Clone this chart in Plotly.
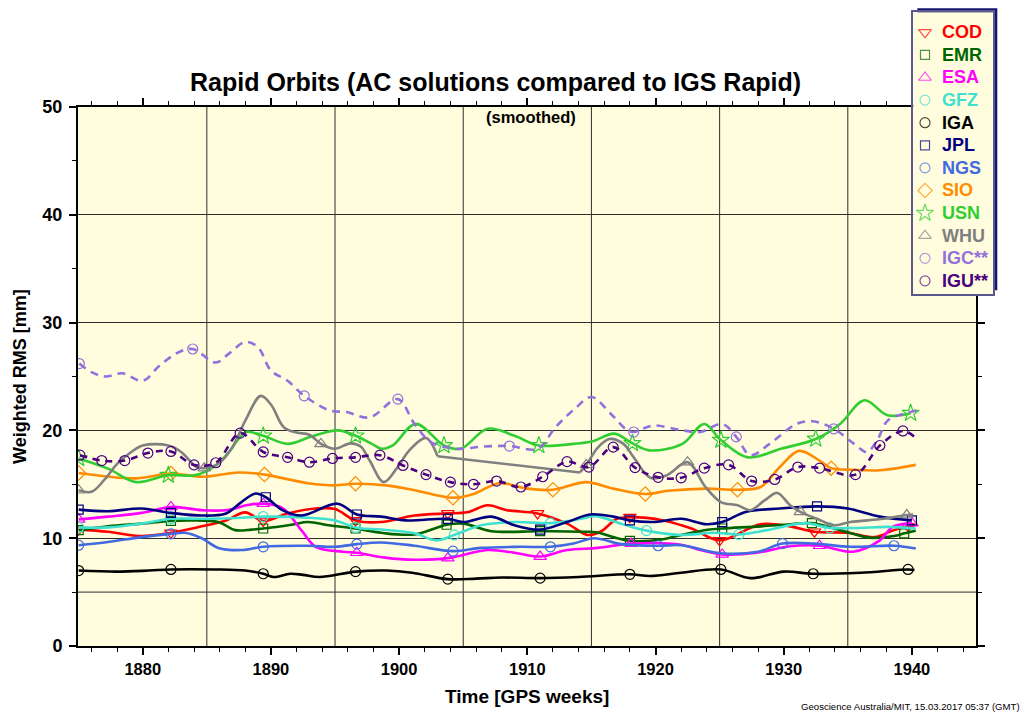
import plotly.graph_objects as go

# ---------------- data ----------------
COD_W = [1875.0, 1877.3, 1879.9, 1882.2, 1884.6, 1886.5, 1888.0, 1889.4, 1891.3, 1893.5, 1895.0, 1896.6,
         1898.6, 1901.2, 1903.8, 1905.3, 1906.9, 1908.4, 1910.8, 1913.1, 1914.7, 1915.7, 1917.0, 1918.0,
         1920.6, 1922.8, 1925.0, 1928.2, 1930.5, 1932.4, 1935.0, 1937.1, 1938.6, 1939.7, 1940.2]
COD_V = [10.8, 10.6, 10.2, 10.5, 11.1, 11.65, 12.4, 11.6, 12.3, 12.75, 12.7, 11.65,
         11.5, 12.1, 12.3, 12.4, 13.05, 12.6, 12.3, 11.35, 10.3, 10.6, 11.8, 11.95,
         11.65, 10.9, 9.8, 11.3, 11.1, 10.6, 10.5, 10.1, 10.75, 11.1, 11.2]
COD_MK = [1875.0, 1882.2, 1889.4, 1896.6, 1903.8, 1910.8, 1918.0, 1925.0, 1932.4, 1939.7]

EMR_W = [1875.0, 1877.3, 1879.9, 1882.2, 1883.7, 1885.9, 1887.2, 1888.5, 1889.4, 1891.6, 1892.9, 1894.5,
         1896.6, 1898.6, 1901.2, 1903.7, 1905.0, 1907.2, 1911.0, 1914.3, 1915.4, 1916.7, 1918.0, 1920.6,
         1922.0, 1924.2, 1925.2, 1928.2, 1930.5, 1932.2, 1934.4, 1936.7, 1938.6, 1939.4, 1940.3]
EMR_V = [10.75, 11.1, 11.35, 11.6, 11.65, 11.5, 10.75, 10.8, 10.9, 11.25, 11.5, 11.2,
         10.9, 10.5, 10.35, 11.25, 11.35, 10.65, 10.65, 10.6, 10.55, 10.1, 9.75, 9.9,
         10.3, 10.8, 10.9, 11.1, 11.3, 11.4, 10.75, 10.05, 10.2, 10.45, 10.7]
EMR_MK = [1875.0, 1882.2, 1889.4, 1896.6, 1903.7, 1911.0, 1918.0, 1925.2, 1932.2, 1939.4]

ESA_W = [1875.0, 1877.3, 1879.9, 1882.2, 1884.6, 1886.5, 1888.3, 1889.4, 1890.9, 1892.4, 1893.5, 1895.6,
         1896.7, 1898.9, 1901.2, 1903.8, 1906.9, 1909.0, 1911.0, 1913.1, 1915.5, 1918.1, 1922.0, 1923.5,
         1925.2, 1927.9, 1930.5, 1932.8, 1935.4, 1937.5, 1938.5, 1940.0]
ESA_V = [11.75, 12.0, 12.35, 12.9, 12.6, 12.6, 13.1, 13.2, 12.8, 10.7, 9.2, 8.75,
         8.65, 8.2, 8.0, 8.15, 8.9, 8.65, 8.3, 8.9, 9.1, 9.5, 9.4, 8.9,
         8.5, 8.65, 9.25, 9.3, 8.75, 9.8, 11.05, 11.4]
ESA_MK = [1875.0, 1882.2, 1889.4, 1896.7, 1903.8, 1911.0, 1918.1, 1925.2, 1932.8, 1940.0]

GFZ_W = [1875.0, 1877.3, 1879.9, 1882.2, 1884.6, 1887.7, 1889.4, 1892.9, 1895.0, 1896.6, 1898.6, 1901.2,
         1902.9, 1904.3, 1906.4, 1909.0, 1911.8, 1914.2, 1915.3, 1917.3, 1919.3, 1922.0, 1924.6, 1926.5,
         1928.7, 1931.7, 1933.6, 1935.6, 1938.2, 1940.3]
GFZ_V = [11.0, 11.0, 11.35, 11.8, 11.8, 11.9, 12.0, 11.9, 11.65, 11.0, 10.8, 10.45,
         9.8, 10.3, 11.2, 11.5, 11.4, 11.8, 12.05, 11.35, 10.7, 10.3, 10.5, 10.35,
         10.75, 11.4, 10.95, 10.95, 11.05, 10.9]
GFZ_MK = [1875.0, 1882.2, 1889.4, 1896.6, 1904.3, 1911.8, 1919.3, 1926.5, 1933.6]

IGA_W = [1875.0, 1878.0, 1880.5, 1882.2, 1885.6, 1888.0, 1889.4, 1890.2, 1891.5, 1892.5, 1893.8, 1896.6,
         1899.0, 1901.0, 1903.8, 1906.0, 1908.0, 1911.0, 1914.0, 1918.0, 1919.6, 1922.0, 1925.1, 1927.4,
         1930.0, 1932.3, 1936.0, 1939.7, 1940.2]
IGA_V = [7.0, 6.9, 7.0, 7.1, 7.1, 7.0, 6.7, 6.4, 6.7, 6.6, 6.4, 6.9,
         7.0, 6.8, 6.2, 6.25, 6.35, 6.3, 6.4, 6.65, 6.5, 6.8, 7.1, 6.3,
         6.9, 6.7, 6.8, 7.1, 7.05]
IGA_MK = [1875.0, 1882.2, 1889.4, 1896.6, 1903.8, 1911.0, 1918.0, 1925.1, 1932.3, 1939.7]

JPL_W = [1875.0, 1877.3, 1879.9, 1882.2, 1884.6, 1886.5, 1887.7, 1888.8, 1889.6, 1890.9, 1892.4, 1895.2,
         1896.7, 1898.6, 1900.5, 1903.8, 1905.0, 1907.2, 1909.0, 1911.0, 1913.1, 1914.9, 1916.7, 1918.0,
         1919.8, 1922.0, 1924.0, 1925.2, 1927.1, 1929.7, 1932.6, 1935.0, 1937.5, 1940.0]
JPL_V = [12.65, 12.5, 12.75, 12.35, 12.1, 12.3, 13.35, 14.15, 13.8, 12.6, 12.1, 13.2,
         12.2, 12.0, 11.65, 11.8, 11.5, 12.0, 11.2, 10.8, 11.5, 12.2, 12.0, 11.65,
         11.5, 11.8, 11.3, 11.5, 12.45, 12.75, 12.95, 12.75, 12.0, 11.65]
JPL_MK = [1875.0, 1882.2, 1889.6, 1896.7, 1903.8, 1911.0, 1918.0, 1925.2, 1932.6, 1940.0]

NGS_W = [1875.0, 1877.3, 1879.9, 1882.2, 1883.3, 1884.6, 1885.9, 1887.7, 1889.4, 1892.9, 1895.0, 1896.7,
         1898.6, 1901.2, 1904.2, 1906.4, 1909.5, 1911.8, 1913.6, 1915.2, 1917.3, 1920.2, 1922.0, 1925.1,
         1928.0, 1929.9, 1932.4, 1935.2, 1938.6, 1940.3]
NGS_V = [9.35, 9.65, 10.1, 10.4, 10.5, 10.0, 9.1, 8.9, 9.2, 9.3, 9.2, 9.45,
         9.6, 9.3, 8.8, 9.1, 9.2, 9.2, 9.5, 10.0, 9.45, 9.3, 9.35, 8.6,
         8.75, 9.5, 9.5, 9.2, 9.3, 9.05]
NGS_MK = [1875.0, 1882.2, 1889.4, 1896.7, 1904.2, 1911.8, 1920.2, 1929.9, 1938.6]

SIO_W = [1875.0, 1879.5, 1882.2, 1884.7, 1887.5, 1889.5, 1892.9, 1895.0, 1896.6, 1899.0, 1901.2, 1904.2,
         1905.8, 1907.8, 1910.0, 1912.0, 1914.6, 1916.7, 1919.2, 1921.0, 1924.0, 1926.4, 1928.2, 1929.7,
         1931.2, 1932.8, 1933.7, 1935.4, 1937.5, 1940.3]
SIO_V = [16.05, 15.55, 16.0, 15.7, 16.1, 15.9, 15.1, 14.9, 15.05, 14.9, 14.45, 13.75,
         14.1, 15.1, 14.6, 14.5, 15.2, 14.6, 14.1, 14.4, 14.6, 14.5, 14.75, 16.6,
         18.1, 17.2, 16.5, 16.35, 16.3, 16.8]
SIO_MK = [1875.0, 1882.2, 1889.5, 1896.6, 1904.2, 1912.0, 1919.2, 1926.4, 1933.7]

USN_W = [1875.0, 1877.3, 1879.5, 1882.0, 1884.1, 1885.7, 1886.8, 1887.4, 1888.1, 1889.4, 1891.3, 1893.1,
         1895.2, 1896.6, 1897.8, 1898.7, 1899.5, 1901.3, 1903.5, 1904.8, 1906.9, 1909.0, 1910.9, 1913.6,
         1915.1, 1916.8, 1918.2, 1919.5, 1922.1, 1923.8, 1925.1, 1927.2, 1929.8, 1932.5, 1934.4, 1936.3,
         1938.1, 1939.9]
USN_V = [17.4, 16.45, 15.2, 15.85, 15.85, 16.75, 18.1, 19.1, 19.85, 19.5, 18.75, 19.4,
         20.0, 19.5, 18.8, 18.3, 18.6, 20.6, 18.6, 18.3, 20.15, 19.5, 18.6, 18.75,
         19.0, 19.7, 18.8, 18.15, 18.75, 20.6, 19.1, 17.5, 18.3, 19.2, 20.6, 22.8,
         21.4, 21.6]
USN_MK = [1875.0, 1882.0, 1889.4, 1896.6, 1903.5, 1910.9, 1918.2, 1925.1, 1932.5, 1939.9]

# WHU has a data gap (None) between 1903 and 1914 which is bridged by a straight segment
WHU_W = [1875.0, 1876.0, 1877.0, 1878.0, 1879.0, 1880.0, 1882.0, 1883.0, 1884.2, 1884.8, 1886.0, 1887.0,
         1888.0, 1889.2, 1890.0, 1891.0, 1892.0, 1893.0, 1893.9, 1895.0, 1896.2, 1897.0, 1897.7, 1898.8,
         1899.8, 1900.8, 1902.1, 1903.0, None, 1914.1, 1914.6, 1915.5, 1916.4, 1917.5, 1918.3, 1919.6,
         1920.9, 1922.5, 1923.9, 1925.1, 1926.4, 1927.4, 1928.5, 1929.5, 1930.5, 1931.3, 1932.6, 1933.9,
         1935.2, 1937.8, 1939.6, 1940.1]
WHU_V = [14.45, 14.3, 15.4, 16.9, 17.9, 18.6, 18.6, 18.0, 16.6, 16.5, 17.0, 18.45,
         20.9, 23.2, 22.4, 20.3, 19.8, 19.6, 18.75, 18.3, 18.8, 18.5, 17.2, 15.2,
         16.45, 18.15, 19.3, 17.6, None, 16.1, 16.8, 18.4, 19.2, 18.75, 17.5, 15.6,
         15.85, 17.05, 14.75, 13.35, 13.05, 12.6, 13.5, 14.2, 13.05, 12.45, 11.8, 11.2,
         11.5, 11.8, 12.15, 12.2]
WHU_MK = [1875.0, 1884.8, 1893.9, 1914.6, 1922.5, 1931.3, 1939.6]

IGC_W = [1875.05, 1876.0, 1877.1, 1878.4, 1880.0, 1881.3, 1882.8, 1883.9, 1885.7, 1886.7, 1888.0, 1889.0,
         1890.0, 1891.3, 1892.6, 1894.6, 1895.9, 1897.7, 1899.9, 1901.2, 1902.5, 1904.5, 1906.5, 1908.6,
         1910.8, 1912.2, 1913.7, 1915.0, 1916.5, 1917.8, 1918.3, 1919.8, 1921.9, 1923.5, 1925.2, 1926.3,
         1927.4, 1928.9, 1931.0, 1932.3, 1933.9, 1935.5, 1936.5, 1937.3, 1938.1, 1939.4, 1940.4]
IGC_V = [26.2, 25.4, 25.0, 25.3, 24.6, 26.0, 27.25, 27.55, 26.3, 27.1, 28.2, 27.7,
         25.55, 24.6, 23.2, 21.85, 21.7, 21.2, 22.9, 20.6, 18.9, 18.3, 18.5, 18.55,
         18.3, 20.3, 22.0, 23.1, 21.55, 20.0, 19.85, 20.45, 20.05, 19.85, 20.6, 19.4,
         17.7, 18.75, 20.6, 20.85, 20.15, 18.75, 18.0, 19.1, 20.9, 21.55, 21.85]
IGC_MK = [1875.05, 1883.9, 1892.6, 1899.9, 1908.6, 1918.3, 1926.3, 1933.9]

IGU_W = [1875.1, 1876.8, 1878.6, 1880.4, 1882.2, 1884.0, 1885.7, 1887.6, 1889.4, 1891.3, 1893.0, 1894.8,
         1896.6, 1898.5, 1900.3, 1902.1, 1904.0, 1905.8, 1907.6, 1909.5, 1911.2, 1913.1, 1914.8, 1916.7,
         1918.4, 1920.2, 1922.0, 1923.8, 1925.7, 1927.5, 1929.3, 1931.1, 1932.8, 1935.6, 1937.5, 1939.3,
         1940.4]
IGU_V = [17.7, 17.2, 17.2, 17.9, 18.05, 16.8, 17.0, 19.75, 18.0, 17.5, 17.05, 17.4,
         17.5, 17.7, 16.75, 15.9, 15.2, 15.0, 15.3, 14.75, 15.7, 17.1, 16.6, 18.45,
         16.55, 15.65, 15.6, 16.5, 16.8, 15.3, 15.45, 16.6, 16.5, 15.9, 18.6, 19.95,
         19.2]
IGU_MK = [1875.1, 1876.8, 1878.6, 1880.4, 1882.2, 1884.0, 1885.7, 1887.6, 1889.4, 1891.3, 1893.0, 1894.8,
          1896.6, 1898.5, 1900.3, 1902.1, 1904.0, 1905.8, 1907.6, 1909.5, 1911.2, 1913.1, 1914.8, 1916.7,
          1918.4, 1920.2, 1922.0, 1923.8, 1925.7, 1927.5, 1929.3, 1931.1, 1932.8, 1935.6, 1937.5, 1939.3]

NAMES = ["COD", "EMR", "ESA", "GFZ", "IGA", "JPL", "NGS", "SIO", "USN", "WHU", "IGC**", "IGU**"]

WEEK_TICK0 = 1880
GRID_WEEKS = [1885, 1895, 1905, 1915, 1925, 1935]
EXTRA_GRID_Y = [5]

TITLE = "Rapid Orbits (AC solutions compared to IGS Rapid)"
SUBTITLE = "(smoothed)"
X_TITLE = "Time [GPS weeks]"
Y_TITLE = "Weighted RMS [mm]"
FOOTER = "Geoscience Australia/MIT, 15.03.2017 05:37 (GMT)"

# ---------------- styles ----------------
STYLE = {
    "COD":   dict(color="#FF0000", symbol="triangle-down-open", size=11, dash="solid"),
    "EMR":   dict(color="#006400", symbol="square-open", size=9, dash="solid"),
    "ESA":   dict(color="#FF00FF", symbol="triangle-up-open", size=11, dash="solid"),
    "GFZ":   dict(color="#40E0D0", symbol="circle-open", size=10, dash="solid"),
    "IGA":   dict(color="#000000", symbol="circle-open", size=10, dash="solid"),
    "JPL":   dict(color="#000080", symbol="square-open", size=9, dash="solid"),
    "NGS":   dict(color="#4169E1", symbol="circle-open", size=10, dash="solid"),
    "SIO":   dict(color="#FF8C00", symbol="diamond-open", size=11, dash="solid"),
    "USN":   dict(color="#32CD32", symbol="star-open", size=13, dash="solid"),
    "WHU":   dict(color="#808080", symbol="triangle-up-open", size=11, dash="solid"),
    "IGC**": dict(color="#9370DB", symbol="circle-open", size=10, dash="8px,6px"),
    "IGU**": dict(color="#4B0082", symbol="circle-open", size=10, dash="7px,6px"),
}
DATA = {
    "COD": (COD_W, COD_V, COD_MK), "EMR": (EMR_W, EMR_V, EMR_MK), "ESA": (ESA_W, ESA_V, ESA_MK),
    "GFZ": (GFZ_W, GFZ_V, GFZ_MK), "IGA": (IGA_W, IGA_V, IGA_MK), "JPL": (JPL_W, JPL_V, JPL_MK),
    "NGS": (NGS_W, NGS_V, NGS_MK), "SIO": (SIO_W, SIO_V, SIO_MK), "USN": (USN_W, USN_V, USN_MK),
    "WHU": (WHU_W, WHU_V, WHU_MK), "IGC**": (IGC_W, IGC_V, IGC_MK), "IGU**": (IGU_W, IGU_V, IGU_MK),
}

FONT = "Liberation Sans, Arial, Helvetica, sans-serif"
BG = "#FFFDDE"
GRID = "#2E2E2E"

# page geometry (pixels)
W_PX, H_PX = 1027, 716
M_L, M_R, M_T, M_B = 78, 27, 5, 70
PA_X0, PA_X1 = M_L, W_PX - M_R
PA_Y0, PA_Y1 = M_T, H_PX - M_B


def px_x(px):
    return (px - PA_X0) / (PA_X1 - PA_X0)


def px_y(py):
    return (PA_Y1 - py) / (PA_Y1 - PA_Y0)


MAIN_X_DOM = [0, px_x(976)]
MAIN_Y_DOM = [0, px_y(107)]
LEG_X_DOM = [px_x(913.3), px_x(993.3)]
LEG_Y_DOM = [px_y(294.3), px_y(12.3)]

fig = go.Figure()

for name in NAMES:
    W, V, MK = DATA[name]
    st = STYLE[name]
    op = [0 if w is None else (1 if any(abs(w - m) < 1e-6 for m in MK) else 0) for w in W]
    fig.add_trace(go.Scatter(
        x=W, y=V, mode="lines+markers", connectgaps=False, showlegend=False, hoverinfo="skip",
        line=dict(color=st["color"], width=2.6, shape="spline", smoothing=1.0, dash=st["dash"]),
        marker=dict(symbol=st["symbol"], size=st["size"], color=st["color"], opacity=op,
                    line=dict(width=1.2, color=st["color"])),
    ))
    if None in W:  # straight bridge over the gap
        g = W.index(None)
        fig.add_trace(go.Scatter(
            x=[W[g - 1], W[g + 1]], y=[V[g - 1], V[g + 1]], mode="lines", showlegend=False,
            hoverinfo="skip", line=dict(color=st["color"], width=2.6, dash=st["dash"]),
        ))

# ---------------- custom legend (own small subplot) ----------------
LEG_ROW0, LEG_ROW_STEP = 20.0, 22.6
rows = [LEG_ROW0 + i * LEG_ROW_STEP for i in range(len(NAMES))]
fig.add_trace(go.Scatter(
    x=[11.7] * len(NAMES), y=rows, xaxis="x3", yaxis="y3", mode="markers", showlegend=False,
    hoverinfo="skip",
    marker=dict(symbol=[STYLE[n]["symbol"] for n in NAMES],
                size=[STYLE[n]["size"] for n in NAMES],
                color=[STYLE[n]["color"] for n in NAMES],
                line=dict(width=1.2, color=[STYLE[n]["color"] for n in NAMES])),
))
annotations = []
for n, r in zip(NAMES, rows):
    annotations.append(dict(
        x=26.5, y=r, xref="x3", yref="y3", xanchor="left", yanchor="middle", showarrow=False,
        text=n, font=dict(family=FONT, size=18, color=STYLE[n]["color"], weight="bold"),
    ))

annotations += [
    dict(x=px_x(495), y=px_y(82), xref="paper", yref="paper", showarrow=False, text=TITLE,
         xanchor="center", yanchor="middle", font=dict(family=FONT, size=25, color="black", weight="bold")),
    dict(x=px_x(531), y=px_y(117), xref="paper", yref="paper", showarrow=False, text=SUBTITLE,
         xanchor="center", yanchor="middle", font=dict(family=FONT, size=16.5, color="black", weight="bold")),
    dict(x=px_x(527), y=px_y(696), xref="paper", yref="paper", showarrow=False, text=X_TITLE,
         xanchor="center", yanchor="middle", font=dict(family=FONT, size=19, color="black", weight="bold")),
    dict(x=px_x(20), y=px_y(377), xref="paper", yref="paper", showarrow=False, text=Y_TITLE,
         textangle=-90, xanchor="center", yanchor="middle",
         font=dict(family=FONT, size=18, color="black", weight="bold")),
    dict(x=px_x(1022), y=px_y(706), xref="paper", yref="paper", showarrow=False, text=FOOTER,
         xanchor="right", yanchor="middle", font=dict(family=FONT, size=9.6, color="black")),
]

shapes = []
# legend drop shadow
shapes.append(dict(type="rect", xref="paper", yref="paper",
                   x0=px_x(917.3), x1=px_x(997.3), y0=px_y(290.3), y1=px_y(8.3),
                   fillcolor="#16166E", line=dict(width=0), layer="below"))
for gx in GRID_WEEKS:
    shapes.append(dict(type="line", xref="x", yref="y domain", x0=gx, x1=gx, y0=0, y1=1,
                       line=dict(color=GRID, width=1), layer="below"))
for gy in EXTRA_GRID_Y:
    shapes.append(dict(type="line", xref="x domain", yref="y", x0=0, x1=1, y0=gy, y1=gy,
                       line=dict(color=GRID, width=1), layer="below"))

fig.update_layout(
    width=W_PX, height=H_PX, autosize=False,
    margin=dict(l=M_L, r=M_R, t=M_T, b=M_B, pad=0, autoexpand=False),
    paper_bgcolor="white", plot_bgcolor=BG,
    font=dict(family=FONT, color="black"),
    showlegend=False,
    annotations=annotations, shapes=shapes,
    xaxis=dict(domain=MAIN_X_DOM, range=[1874.95, 1945.0], tickmode="linear", tick0=WEEK_TICK0, dtick=10,
               ticks="outside", ticklen=7, tickwidth=1.5, tickcolor="black",
               showline=True, linewidth=2, linecolor="black", mirror="ticks",
               showgrid=False, zeroline=False, automargin=False,
               tickfont=dict(family=FONT, size=16.5, color="black", weight="bold"),
               minor=dict(dtick=2, tick0=WEEK_TICK0, ticks="outside", ticklen=4, tickwidth=1,
                          tickcolor="black", showgrid=False),
               anchor="y", fixedrange=True),
    yaxis=dict(domain=MAIN_Y_DOM, range=[0, 50], tickmode="linear", tick0=0, dtick=10,
               ticks="outside", ticklen=7, tickwidth=1.5, tickcolor="black",
               showline=True, linewidth=2, linecolor="black", mirror="ticks",
               showgrid=True, gridcolor=GRID, gridwidth=1, zeroline=False, automargin=False,
               tickfont=dict(family=FONT, size=18, color="black", weight="bold"),
               ticklabelstandoff=3,
               minor=dict(dtick=5, tick0=0, ticks="outside", ticklen=4, tickwidth=1,
                          tickcolor="black", showgrid=False),
               anchor="x", fixedrange=True),
    xaxis3=dict(domain=LEG_X_DOM, range=[0, 80], showline=True, linewidth=1.5, linecolor="#5A5A8E",
                mirror=True, showgrid=False, zeroline=False, showticklabels=False, ticks="",
                anchor="y3", fixedrange=True, automargin=False),
    yaxis3=dict(domain=LEG_Y_DOM, range=[282, 0], showline=True, linewidth=1.5, linecolor="#5A5A8E",
                mirror=True, showgrid=False, zeroline=False, showticklabels=False, ticks="",
                anchor="x3", fixedrange=True, automargin=False),
)

fig.write_html("out.html", config={"displayModeBar": False},
               post_script="document.body.style.margin='0';document.body.style.overflow='hidden';")
